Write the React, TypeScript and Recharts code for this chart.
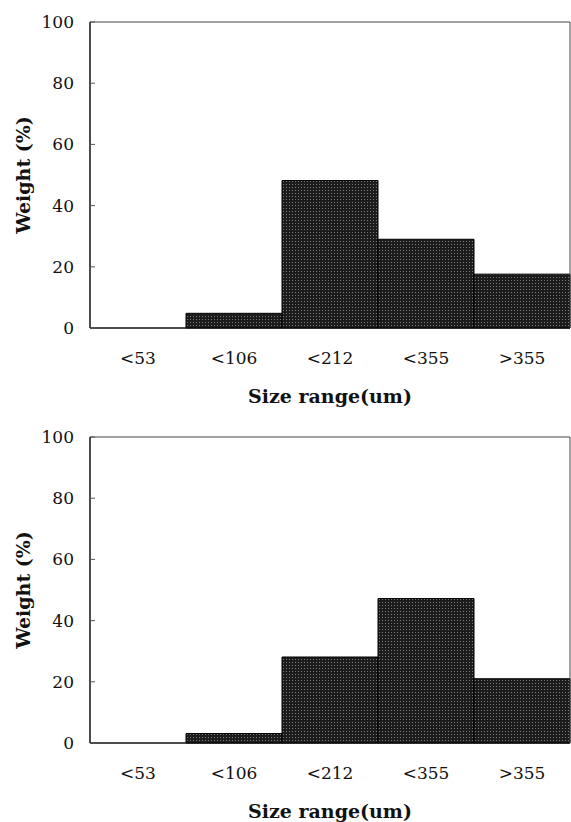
import React from 'react';
import { BarChart, Bar, XAxis, YAxis, ReferenceLine, Label } from 'recharts';

// size classes and weight fractions
const sizeRanges = ['<53', '<106', '<212', '<355', '>355'];
const weightTop = [0, 4.8, 48.2, 29, 17.6];
const weightBottom = [0, 3.1, 28.1, 47.2, 21];
const yTicks = [0, 20, 40, 60, 80, 100];

const SERIF = '"DejaVu Serif", "Liberation Serif", serif';

const XTitle = (props: any) => {
  const { viewBox } = props;
  return (
    <text
      x={viewBox.x + viewBox.width / 2}
      y={viewBox.y + 75}
      textAnchor="middle"
      fontFamily={SERIF}
      fontWeight="bold"
      fontSize={19}
      fill="#111"
    >
      Size range(um)
    </text>
  );
};

const YTitle = (props: any) => {
  const { viewBox } = props;
  const cx = 23;
  const cy = viewBox.y + viewBox.height / 2;
  return (
    <text
      x={cx}
      y={cy}
      transform={`rotate(-90, ${cx}, ${cy})`}
      textAnchor="middle"
      dominantBaseline="central"
      fontFamily={SERIF}
      fontWeight="bold"
      fontSize={19}
      fill="#111"
    >
      Weight (%)
    </text>
  );
};

const Histogram: React.FC<{ values: number[]; height: number; id: string }> = ({ values, height, id }) => {
  const data = sizeRanges.map((range, i) => ({ range, weight: values[i] }));
  const tickStyle = { fontFamily: SERIF, fontSize: 17, fill: '#111' };

  return (
    <BarChart
      width={571}
      height={height}
      data={data}
      margin={{ top: 22, right: 0, bottom: 0, left: 10 }}
      barCategoryGap={0}
    >
      <defs>
        <pattern id={id} width="3" height="3" patternUnits="userSpaceOnUse">
          <rect width="3" height="3" fill="#1c1c1c" />
          <rect x="1" y="1" width="1" height="1" fill="#7a7a7a" />
        </pattern>
      </defs>
      <XAxis
        dataKey="range"
        height={height - 22 - 306}
        axisLine={{ stroke: '#111', strokeWidth: 1.5 }}
        tickLine={false}
        tickSize={0}
        tickMargin={24}
        tick={tickStyle}
        interval={0}
      >
        <Label content={<XTitle />} />
      </XAxis>
      <YAxis
        domain={[0, 100]}
        ticks={yTicks}
        width={80}
        axisLine={{ stroke: '#111', strokeWidth: 1.5 }}
        tickLine={{ stroke: '#555' }}
        tickSize={-5}
        tickMargin={21}
        tick={tickStyle}
      >
        <Label content={<YTitle />} />
      </YAxis>
      <YAxis yAxisId="frame" orientation="right" width={1} tick={false} axisLine={{ stroke: '#444' }} />
      <ReferenceLine y={100} stroke="#444" />
      <Bar dataKey="weight" fill={`url(#${id})`} stroke="#000" strokeWidth={1} isAnimationActive={false} />
    </BarChart>
  );
};

export default function App() {
  return (
    <div style={{ position: 'absolute', left: 0, top: 0, width: 571, height: 822, overflow: 'hidden', background: '#fff' }}>
      <div style={{ position: 'absolute', left: 0, top: 0 }}>
        <Histogram values={weightTop} height={410} id="dotsTop" />
      </div>
      <div style={{ position: 'absolute', left: 0, top: 415 }}>
        <Histogram values={weightBottom} height={407} id="dotsBottom" />
      </div>
    </div>
  );
}
